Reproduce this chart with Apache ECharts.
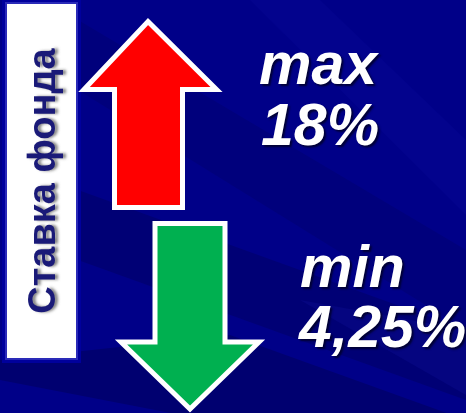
<!DOCTYPE html>
<html>
<head>
<meta charset="utf-8">
<script src="https://cdn.jsdelivr.net/npm/echarts@6/dist/echarts.min.js"></script>
<style>
html,body{margin:0;padding:0;background:#000088;}
#c{width:466px;height:413px;}
</style>
</head>
<body>
<div id="c"></div>
<script>
// Content
var sideLabel = 'Ставка фонда';
var maxLabels = ['max', '18%'];
var minLabels = ['min', '4,25%'];

var chart = echarts.init(document.getElementById('c'));
var FONT = '"Liberation Sans", Arial, sans-serif';
var txtShadow = { textShadowColor: 'rgba(0,0,40,0.85)', textShadowOffsetX: 2, textShadowOffsetY: 2, textShadowBlur: 2 };

function bigText(str, x, y) {
  return {
    type: 'text', left: x, top: y, z: 20,
    style: Object.assign({
      text: str, fill: '#ffffff', font: 'italic bold 59px ' + FONT
    }, txtShadow)
  };
}

var graphics = [
  // background bands
  { type: 'polygon', z: 1, shape: { points: [[250,0],[320,0],[466,140],[466,215]] }, style: { fill: 'rgba(30,30,190,0.10)' } },
  { type: 'polygon', z: 1, shape: { points: [[78,20],[78,90],[466,330],[466,250]] }, style: { fill: 'rgba(0,0,60,0.16)' } },
  { type: 'polygon', z: 1, shape: { points: [[78,190],[78,260],[466,400],[466,330]] }, style: { fill: 'rgba(0,0,50,0.22)' } },
  { type: 'polygon', z: 1, shape: { points: [[0,360],[0,380],[466,470],[466,420],[230,335]] }, style: { fill: 'rgba(0,0,50,0.28)' } },
  { type: 'polygon', z: 1, shape: { points: [[300,300],[466,330],[466,395]] }, style: { fill: 'rgba(40,40,210,0.12)' } },

  // side box
  { type: 'rect', z: 4, shape: { x: 2, y: 0, width: 79, height: 363 }, style: { fill: '#00009c' } },
  { type: 'rect', z: 5, shape: { x: 6, y: 3, width: 71, height: 356 }, style: { fill: '#ffffff', stroke: '#2a2ab8', lineWidth: 2 } },
  {
    type: 'text', z: 10, x: 45, y: 181, rotation: Math.PI / 2,
    style: {
      text: sideLabel, fill: '#1a1a78', font: 'bold 38px ' + FONT,
      align: 'center', verticalAlign: 'middle',
      textShadowColor: 'rgba(90,90,90,0.75)', textShadowOffsetX: 3, textShadowOffsetY: 0, textShadowBlur: 3
    }
  },

  // up arrow (red)
  {
    type: 'polygon', z: 10,
    shape: { points: [[148,21.5],[216.5,89.5],[182.5,89.5],[182.5,207.5],[114.5,207.5],[114.5,89.5],[84,89.5]] },
    style: { fill: '#ff0000', stroke: '#ffffff', lineWidth: 5, lineJoin: 'miter' }
  },
  // down arrow (green)
  {
    type: 'polygon', z: 10,
    shape: { points: [[155,223.5],[225,223.5],[225,342],[259,342],[190,409],[121,342],[155,342]] },
    style: { fill: '#00b050', stroke: '#ffffff', lineWidth: 5, lineJoin: 'miter' }
  },

  bigText(maxLabels[0], 259, 38),
  bigText(maxLabels[1], 261, 99),
  bigText(minLabels[0], 300, 241),
  bigText(minLabels[1], 299, 301)
];

chart.setOption({
  backgroundColor: '#000088',
  animation: false,
  graphic: { elements: graphics }
});
</script>
</body>
</html>
